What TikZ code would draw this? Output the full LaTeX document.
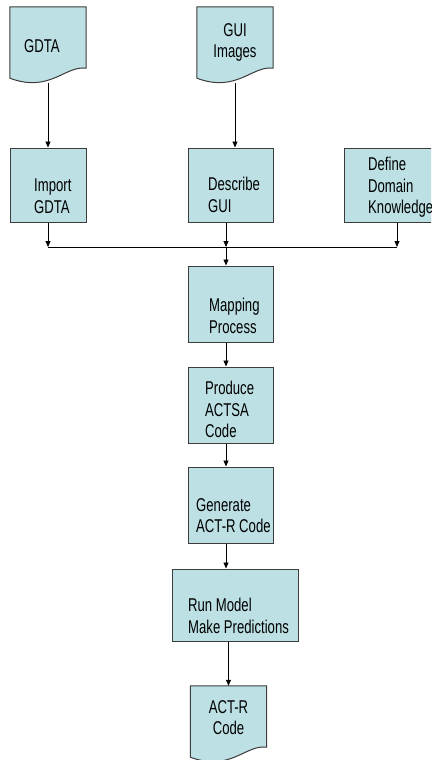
\documentclass[tikz,border=0pt]{standalone}
\usepackage{fontspec}
\setmainfont[FakeStretch=0.71]{Liberation Sans}
\usetikzlibrary{arrows.meta}
\definecolor{boxfill}{RGB}{188,224,227}
\definecolor{boxline}{RGB}{60,60,60}

\begin{document}
\begin{tikzpicture}[
      x=1pt, y=-1pt,
      box_proc/.style={
         rectangle,
         draw=boxline,
         fill=boxfill,
         line width=1pt,
         inner sep=0pt},
      box_doc/.style={
         rectangle,
         inner sep=0pt,
         minimum width=76pt,
         minimum height=71pt},
      doc_line/.style={
         draw=boxline,
         fill=boxfill,
         line width=1pt},
      box_text/.style={
         anchor=north west,
         align=left,
         inner sep=0pt,
         font=\fontsize{18.5}{21.5}\selectfont},
      arrow_black/.style={
         -{Triangle[length=6pt,width=5pt]},
         line width=0.8pt}
]
      \useasboundingbox (0,0) rectangle (431,760);
      \clip (0,0) rectangle (431,760);

      %inputs
      \node[box_doc] (gdta) at (48,42.5) {};
      \node[box_doc] (gui) at (235,42.5) {};

      %first row
      \node[box_proc,minimum width=76pt,minimum height=74pt] (imp) at (48,185) {};
      \node[box_proc,minimum width=85pt,minimum height=74pt] (desc) at (230.5,185) {};
      \node[box_proc,minimum width=106pt,minimum height=74pt] (dom) at (397,185) {};

      %main column
      \node[box_proc,minimum width=85pt,minimum height=76pt] (map) at (230.5,304) {};
      \node[box_proc,minimum width=85pt,minimum height=76pt] (prod) at (230.5,405) {};
      \node[box_proc,minimum width=85pt,minimum height=76pt] (gen) at (230.5,505) {};
      \node[box_proc,minimum width=126pt,minimum height=72pt] (run) at (235,605) {};

      %output
      \node[box_doc] (actr) at (228.5,721.5) {};

      \foreach \d in {gdta,gui,actr}
      \draw[doc_line] (\d.south west) -- (\d.north west) -- (\d.north east)
        -- ([yshift=10pt]\d.south east)
        .. controls ([xshift=-21pt,yshift=13pt]\d.south east) and ([xshift=40pt,yshift=-15pt]\d.south west) .. (\d.south west) -- cycle;

      %labels
      \node[box_text] (gdta_t) at (24,39) {GDTA};
      \node[box_text,anchor=north,align=center] (gui_t) at (235,23) {GUI\\Images};
      \node[box_text] (imp_t) at (34,179) {Import\\GDTA};
      \node[box_text] (desc_t) at (208,177) {Describe\\GUI};
      \node[box_text] (dom_t) at (368,157) {Define\\Domain\\Knowledge};
      \node[box_text] (map_t) at (209,298) {Mapping\\Process};
      \node[box_text] (prod_t) at (205,381) {Produce\\ACTSA\\Code};
      \node[box_text] (gen_t) at (196,498) {Generate\\ACT-R Code};
      \node[box_text] (run_t) at (188,598) {Run Model\\Make Predictions};
      \node[box_text,anchor=north,align=center] (actr_t) at (228.5,700) {ACT-R\\Code};

      %connectors
      \coordinate (bus) at (226,247);
      \coordinate (spine) at (226,0);
      \draw[arrow_black] ([yshift=-5pt]gdta.south) -- (imp.north);
      \draw[arrow_black] ([yshift=-5pt]gui.south) -- (gui.south |- desc.north);
      \foreach \b in {imp,dom}
      \draw[arrow_black] (\b.south) -- (\b.south |- bus);
      \draw[arrow_black] (desc.south -| bus) -- (bus);
      \draw[line width=0.8pt] (imp.south |- bus) -- (dom.south |- bus);
      \draw[arrow_black] (bus) -- (map.north -| bus);
      \foreach \i/\j in {map/prod, prod/gen, gen/run}
      \draw[arrow_black] (\i.south -| spine) -- (\j.north -| spine);
      \draw[arrow_black] (run.south -| actr) -- (actr.north);

\end{tikzpicture}
\end{document}
